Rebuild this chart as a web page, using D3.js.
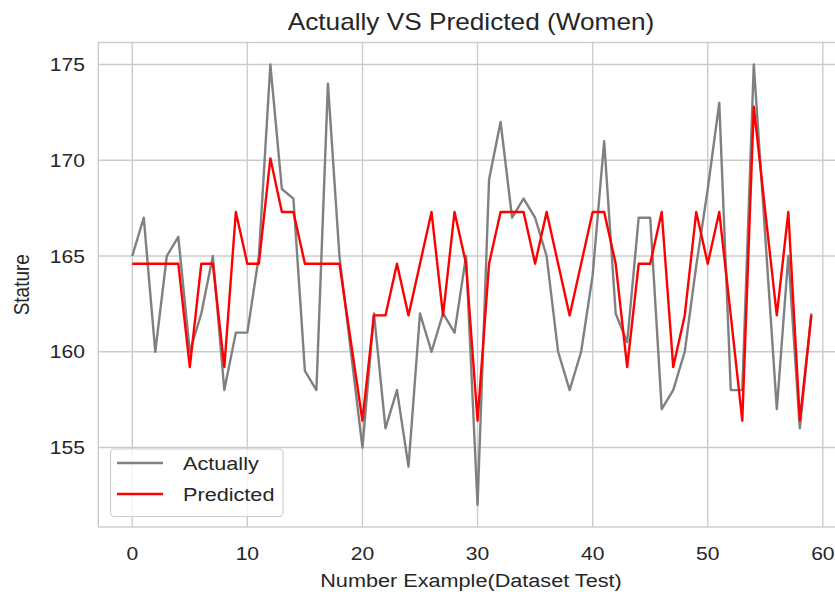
<!DOCTYPE html>
<html>
<head>
<meta charset="utf-8">
<script src="https://d3js.org/d3.v7.min.js"></script>
<style>
  body { margin: 0; background: #fff; }
  svg { display: block; font-family: "Liberation Sans", Arial, sans-serif; }
</style>
</head>
<body>
<div id="chart"></div>
<script>
// values
var actually = [165, 167, 160, 165, 166, 160, 162, 165, 158, 161,
  161, 165, 175, 168.5, 168, 159, 158, 174, 165, 160,
  155, 162, 156, 158, 154, 162, 160, 162, 161, 165,
  152, 169, 172, 167, 168, 167, 165, 160, 158, 160,
  164, 171, 162, 160.5, 167, 167, 157, 158, 160, 164.5,
  168.5, 173, 158, 158, 175, 166, 157, 165, 156, 162];

var predicted = [164.6, 164.6, 164.6, 164.6, 164.6, 159.2, 164.6, 164.6, 159.2, 167.3,
  164.6, 164.6, 170.1, 167.3, 167.3, 164.6, 164.6, 164.6, 164.6, 160.5,
  156.4, 161.9, 161.9, 164.6, 161.9, 164.6, 167.3, 161.9, 167.3, 164.6,
  156.4, 164.6, 167.3, 167.3, 167.3, 164.6, 167.3, 164.6, 161.9, 164.6,
  167.3, 167.3, 164.6, 159.2, 164.6, 164.6, 167.3, 159.2, 161.9, 167.3,
  164.6, 167.3, 161.9, 156.4, 172.8, 167.3, 161.9, 167.3, 156.4, 161.9];

var xTicks = [0, 10, 20, 30, 40, 50, 60];
var yTicks = [155, 160, 165, 170, 175];

var seriesNames = ["Actually", "Predicted"];
var seriesColors = ["grey", "red"];

var W = 835, H = 594;
// plot box (runs past the right edge, as in the original figure)
var pLeft = 98.3, pRight = 845.3, pTop = 42.5, pBottom = 527;
var sx = 1.14; // the original picture is a bit wider than tall

var svg = d3.select("#chart")
  .append("svg")
  .attr("width", W)
  .attr("height", H);

var x = d3.scaleLinear().domain([-2.95, 61.95]).range([pLeft, pRight]);
var y = d3.scaleLinear().domain([150.85, 176.15]).range([pBottom, pTop]);

function addText(px, py, str, size, anchor) {
  return svg.append("text")
    .attr("transform", "translate(" + px + "," + py + ") scale(" + sx + ",1)")
    .attr("text-anchor", anchor)
    .attr("fill", "#262626")
    .style("font-size", size + "px")
    .text(str);
}

// grid
svg.append("g")
  .selectAll("line")
  .data(xTicks)
  .enter()
  .append("line")
  .attr("x1", function (d) { return x(d); })
  .attr("x2", function (d) { return x(d); })
  .attr("y1", pTop)
  .attr("y2", pBottom)
  .attr("stroke", "#cccccc")
  .attr("stroke-width", 1.4);

svg.append("g")
  .selectAll("line")
  .data(yTicks)
  .enter()
  .append("line")
  .attr("x1", pLeft)
  .attr("x2", pRight)
  .attr("y1", function (d) { return y(d); })
  .attr("y2", function (d) { return y(d); })
  .attr("stroke", "#cccccc")
  .attr("stroke-width", 1.4);

// frame
svg.append("rect")
  .attr("x", pLeft)
  .attr("y", pTop)
  .attr("width", pRight - pLeft)
  .attr("height", pBottom - pTop)
  .attr("fill", "none")
  .attr("stroke", "#cccccc")
  .attr("stroke-width", 1.4);

// tick labels
xTicks.forEach(function (t) {
  addText(x(t), 560, t, 18.5, "middle");
});
yTicks.forEach(function (t) {
  addText(85, y(t) + 6.5, t, 18.5, "end");
});

// lines
var line = d3.line()
  .x(function (d, i) { return x(i); })
  .y(function (d) { return y(d); });

[actually, predicted].forEach(function (s, k) {
  svg.append("path")
    .datum(s)
    .attr("fill", "none")
    .attr("stroke", seriesColors[k])
    .attr("stroke-width", 2.4)
    .attr("stroke-linejoin", "round")
    .attr("d", line);
});

// title + axis labels
addText(471, 30, "Actually VS Predicted (Women)", 23, "middle");
addText(471, 587, "Number Example(Dataset Test)", 19, "middle");

svg.append("text")
  .attr("transform", "translate(29," + (pTop + pBottom) / 2 + ") scale(" + sx + ",1) rotate(-90)")
  .attr("text-anchor", "middle")
  .attr("fill", "#262626")
  .style("font-size", "19px")
  .text("Stature");

// legend
var legend = svg.append("g");
legend.append("rect")
  .attr("x", 110.5)
  .attr("y", 449)
  .attr("width", 172.5)
  .attr("height", 67.5)
  .attr("rx", 4)
  .attr("fill", "white")
  .attr("fill-opacity", 0.8)
  .attr("stroke", "#cccccc")
  .attr("stroke-width", 1.1);

seriesNames.forEach(function (name, k) {
  var ly = 463 + k * 31;
  legend.append("line")
    .attr("x1", 117)
    .attr("x2", 163)
    .attr("y1", ly)
    .attr("y2", ly)
    .attr("stroke", seriesColors[k])
    .attr("stroke-width", 2.4);
  addText(183, ly + 7, name, 19, "start");
});
</script>
</body>
</html>
